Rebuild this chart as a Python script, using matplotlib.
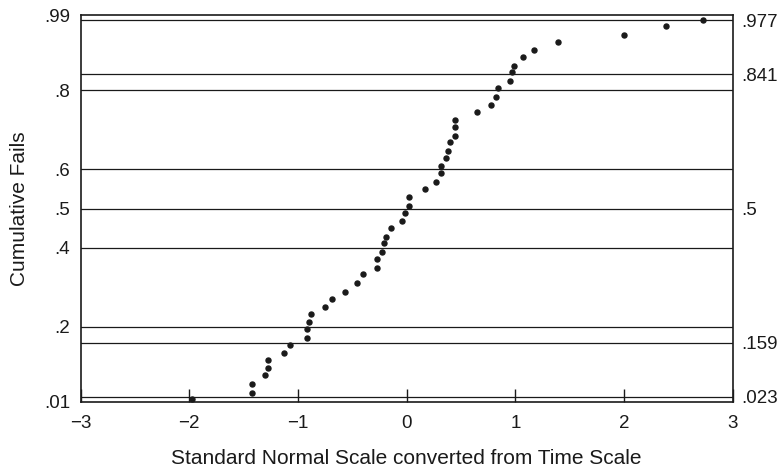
import matplotlib
matplotlib.use('Agg')
import matplotlib.pyplot as plt

plt.rcParams['font.family'] = ['Liberation Sans', 'DejaVu Sans']

# standard normal score of each failure
z_scores = [-1.98, -1.42, -1.42, -1.30, -1.28, -1.28, -1.13, -1.07, -0.92, -0.92,
            -0.90, -0.88, -0.75, -0.69, -0.57, -0.46, -0.40, -0.27, -0.27, -0.23,
            -0.21, -0.19, -0.14, -0.04, -0.02, 0.02, 0.02, 0.17, 0.27, 0.32,
            0.32, 0.36, 0.38, 0.40, 0.44, 0.44, 0.44, 0.65, 0.78, 0.82,
            0.84, 0.95, 0.97, 0.99, 1.07, 1.17, 1.39, 2.00, 2.39, 2.73]
# cumulative fraction failed
cum_fails = [0.017, 0.033, 0.055, 0.077, 0.095, 0.117, 0.133, 0.155, 0.172, 0.194,
             0.211, 0.233, 0.249, 0.271, 0.288, 0.311, 0.333, 0.350, 0.372, 0.389,
             0.412, 0.429, 0.451, 0.468, 0.489, 0.506, 0.528, 0.550, 0.567, 0.590,
             0.607, 0.629, 0.646, 0.668, 0.685, 0.707, 0.724, 0.746, 0.762, 0.784,
             0.806, 0.823, 0.845, 0.862, 0.884, 0.901, 0.923, 0.940, 0.962, 0.979]

grid_levels = [0.023, 0.159, 0.2, 0.4, 0.5, 0.6, 0.8, 0.841, 0.977]
left_ticks = [0.01, 0.2, 0.4, 0.5, 0.6, 0.8, 0.99]
left_labels = ['.01', '.2', '.4', '.5', '.6', '.8', '.99']
right_ticks = [0.023, 0.159, 0.5, 0.841, 0.977]
right_labels = ['.023', '.159', '.5', '.841', '.977']
x_ticks = [-3, -2, -1, 0, 1, 2, 3]

ink = '#1a1a1a'

fig = plt.figure(figsize=(7.81, 4.71), dpi=100)
ax = fig.add_axes([0.1033, 0.1471, 0.8349, 0.8204])

for lev in grid_levels:
    ax.axhline(lev, color=ink, lw=0.9, zorder=1)

ax.plot(z_scores, cum_fails, 'o', color=ink, ms=3.6, zorder=3, clip_on=False)

ax.set_xlim(-3, 3)
ax.set_ylim(0.01, 0.99)
ax.set_xticks(x_ticks)
ax.set_xticklabels(['\u22123', '\u22122', '\u22121', '0', '1', '2', '3'])
ax.tick_params(axis='x', direction='in', length=9.5, width=1.0, color=ink,
               labelsize=13.5, labelcolor=ink, pad=9.5)
ax.set_yticks(left_ticks)
ax.set_yticklabels(left_labels)
ax.tick_params(axis='y', length=0, labelsize=13.5, labelcolor=ink, pad=7.5)

for sp in ax.spines.values():
    sp.set_linewidth(1.2)
    sp.set_color(ink)

ax2 = ax.twinx()
ax2.set_ylim(0.01, 0.99)
ax2.set_yticks(right_ticks)
ax2.set_yticklabels(right_labels)
ax2.tick_params(axis='y', length=0, labelsize=13.5, labelcolor=ink, pad=6)
for sp in ax2.spines.values():
    sp.set_visible(False)

ax.set_xlabel('Standard Normal Scale converted from Time Scale', fontsize=15,
              color=ink, labelpad=12)
ax.set_ylabel('Cumulative Fails', fontsize=15, color=ink, labelpad=11)

fig.savefig('out.png', dpi=100)
